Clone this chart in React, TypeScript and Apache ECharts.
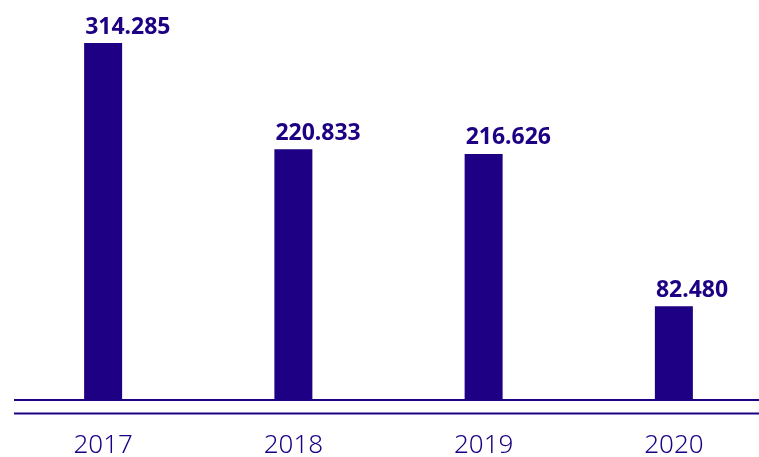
import React, { useEffect, useRef } from "react";
import * as echarts from "echarts";

const categories = ["2017", "2018", "2019", "2020"];
const values = [314.285, 220.833, 216.626, 82.48];
const valueLabels = ["314.285", "220.833", "216.626", "82.480"];

const COLOR = "#1d0083";

export default function App() {
  const ref = useRef<HTMLDivElement>(null);
  useEffect(() => {
    if (!ref.current) return;
    const chart = echarts.init(ref.current, undefined, { renderer: "svg" });
    chart.setOption({
      animation: false,
      grid: {
        left: 8,
        width: 761,
        top: 43,
        bottom: 57,
        containLabel: false,
        outerBoundsMode: "none",
      },
      xAxis: {
        type: "category",
        data: categories,
        axisLine: { show: false },
        axisTick: { show: false },
        axisLabel: {
          color: COLOR,
          fontSize: 26,
          lineHeight: 26,
          fontFamily: "Noto Sans",
          fontWeight: 300,
          margin: 30,
        },
      },
      yAxis: {
        type: "value",
        min: 0,
        max: 314.285,
        show: false,
        splitLine: { show: false },
      },
      series: [
        {
          type: "bar",
          data: values,
          barWidth: 38,
          itemStyle: { color: COLOR },
          label: {
            show: true,
            position: [1, -7],
            align: "left",
            verticalAlign: "bottom",
            color: COLOR,
            fontSize: 23,
            fontWeight: "bold",
            fontFamily: "Noto Sans",
            formatter: (p: any) => valueLabels[p.dataIndex],
          },
        },
      ],
      graphic: [
        {
          type: "line",
          shape: { x1: 14, y1: 400, x2: 759, y2: 400 },
          style: { stroke: COLOR, lineWidth: 2 },
          z: 10,
        },
        {
          type: "line",
          shape: { x1: 14, y1: 413.5, x2: 759, y2: 413.5 },
          style: { stroke: COLOR, lineWidth: 2 },
          z: 10,
        },
      ],
    });
    return () => chart.dispose();
  }, []);
  return (
    <div
      ref={ref}
      style={{ position: "fixed", left: 0, top: 0, width: 759, height: 457 }}
    />
  );
}
